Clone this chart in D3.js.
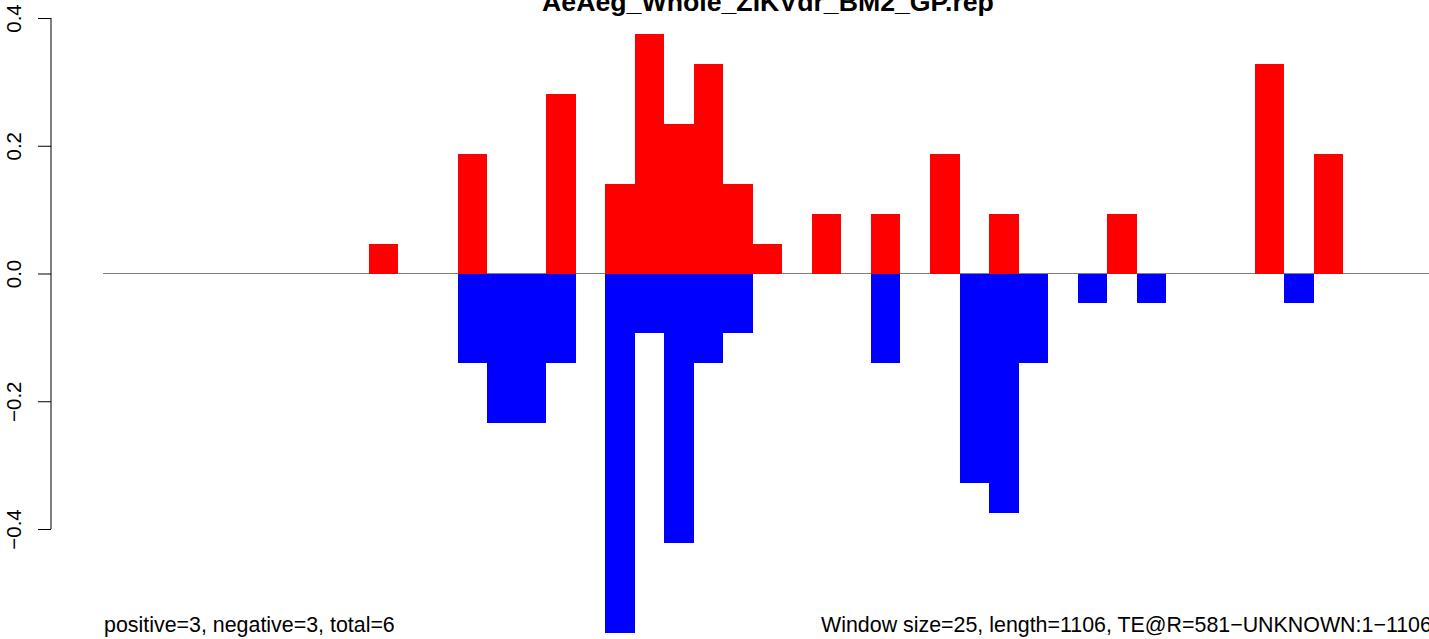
<!DOCTYPE html>
<html><head><meta charset="utf-8">
<script src="https://cdn.jsdelivr.net/npm/d3@7"></script>
<style>html,body{margin:0;padding:0;background:#fff;overflow:hidden}svg{display:block}</style>
</head><body>
<script>
const title = "AeAeg_Whole_ZIKVdr_BM2_GP.rep";
const windowSize = 25;
const posStart = [225, 300, 375, 425, 450, 475, 500, 525, 550, 600, 650, 700, 750, 850, 975, 1025];
const posValue = [0.046875, 0.1875, 0.28125, 0.140625, 0.375, 0.234375, 0.328125, 0.140625, 0.046875, 0.09375, 0.09375, 0.1875, 0.09375, 0.09375, 0.328125, 0.1875];
const negStart = [300, 325, 350, 375, 425, 450, 475, 500, 525, 650, 725, 750, 775, 825, 875, 1000];
const negValue = [-0.140625, -0.234375, -0.234375, -0.140625, -0.5625, -0.09375, -0.421875, -0.140625, -0.09375, -0.140625, -0.328125, -0.375, -0.140625, -0.046875, -0.046875, -0.046875];
const yTicks = [-0.4, -0.2, 0.0, 0.2, 0.4];
const yTickLabels = ["\u22120.4", "\u22120.2", "0.0", "0.2", "0.4"];
const leftNote = "positive=3, negative=3, total=6";
const rightNote = "Window size=25, length=1106, TE@R=581\u2212UNKNOWN:1\u22121106";

const W = 1429, H = 639;
const FONT = "'Liberation Sans', Arial, Helvetica, sans-serif";
const svg = d3.select("body").append("svg").attr("width", W).attr("height", H)
  .style("font-family", FONT);

const x = d3.scaleLinear().domain([0, 1125]).range([103.2, 1432]);
const y = d3.scaleLinear().domain([-0.5625, 0.4]).range([632.8, 18]);

// zero line
svg.append("line").attr("x1", 103).attr("x2", W).attr("y1", y(0)).attr("y2", y(0))
  .attr("stroke", "#808080").attr("stroke-width", 1);

svg.append("g").selectAll("rect").data(posStart.map((s, i) => ({s, v: posValue[i]})))
  .join("rect")
  .attr("x", d => x(d.s)).attr("width", d => x(d.s + windowSize) - x(d.s))
  .attr("y", d => y(d.v)).attr("height", d => y(0) - y(d.v))
  .attr("fill", "#ff0000").attr("shape-rendering", "crispEdges");

svg.append("g").selectAll("rect").data(negStart.map((s, i) => ({s, v: negValue[i]})))
  .join("rect")
  .attr("x", d => x(d.s)).attr("width", d => x(d.s + windowSize) - x(d.s))
  .attr("y", d => y(0)).attr("height", d => y(d.v) - y(0))
  .attr("fill", "#0000ff").attr("shape-rendering", "crispEdges");

// y axis
const axis = d3.axisLeft(y).tickValues(yTicks).tickSize(13)
  .tickFormat((d, i) => yTickLabels[i]);
const ag = svg.append("g").attr("transform", "translate(51,0)").call(axis);
ag.select(".domain").attr("d", `M0,${y(-0.4)}V${y(0.4)}`).attr("stroke", "#000");
ag.selectAll(".tick line").attr("stroke", "#000");
ag.selectAll(".tick text")
  .attr("x", null).attr("dy", null)
  .attr("transform", "translate(-37,0) rotate(-90)")
  .attr("text-anchor", "middle").attr("dy", "0.35em")
  .attr("font-size", 20.5).attr("fill", "#000")
  .style("font-family", FONT);

// title
svg.append("text").attr("x", 768).attr("y", 11).attr("text-anchor", "middle")
  .attr("font-weight", "bold").attr("font-size", 26.7).text(title);

svg.append("text").attr("x", 104).attr("y", 632).attr("font-size", 21.4).text(leftNote);
svg.append("text").attr("x", 821).attr("y", 632).attr("font-size", 21.4).text(rightNote);
</script>
</body></html>
